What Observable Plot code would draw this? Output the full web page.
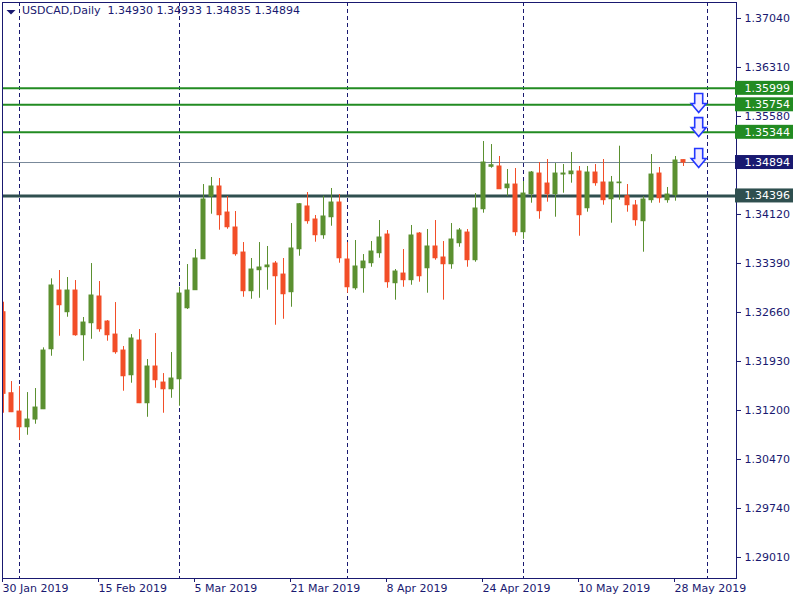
<!DOCTYPE html>
<html><head><meta charset="utf-8">
<script src="https://cdn.jsdelivr.net/npm/d3@7"></script>
<script src="https://cdn.jsdelivr.net/npm/@observablehq/plot@0.6"></script>
<style>body{margin:0;background:#fff} svg{display:block}</style>
</head><body><div id="chart"></div>
<script>
const symbolName = "USDCAD,Daily";
const open = [
1.32664,1.31457,1.31184,1.30950,1.31065,1.31218,1.32112,1.32987,1.32664,1.32987,
1.32321,1.32500,1.32898,1.32525,1.32331,1.32093,1.31725,1.32242,1.31308,1.31855,
1.31616,1.31516,1.31665,1.32723,1.32992,1.33453,1.34388,1.34537,1.34149,1.33926,
1.33553,1.32977,1.33290,1.33334,1.33389,1.33225,1.32962,1.33602,1.34239,1.34045,
1.33811,1.34079,1.34298,1.33449,1.33021,1.33319,1.33394,1.33543,1.33821,1.33096,
1.33240,1.33141,1.33836,1.33319,1.33643,1.33479,1.33379,1.33692,1.33851,1.33439,
1.34198,1.34830,1.34835,1.34511,1.34566,1.33856,1.34422,1.34730,1.34581,1.34422,
1.34715,1.34720,1.34760,1.34213,1.34745,1.34596,1.34347,1.34586,1.34392,1.34254,
1.34020,1.34333,1.34730,1.34333,1.34407,1.34930];
const high = [
1.32813,1.31631,1.31557,1.31467,1.31527,1.32133,1.33161,1.33285,1.33181,1.33136,
1.32585,1.33389,1.33121,1.32540,1.32808,1.32153,1.32331,1.32406,1.31959,1.32346,
1.31750,1.32063,1.33036,1.33374,1.33598,1.34566,1.34671,1.34656,1.34388,1.34164,
1.33702,1.33464,1.33702,1.33643,1.33419,1.33464,1.33985,1.34283,1.34447,1.34105,
1.34392,1.34507,1.34417,1.33702,1.33732,1.33523,1.33717,1.34030,1.33881,1.33300,
1.33598,1.33956,1.33851,1.33896,1.34030,1.33717,1.33985,1.33911,1.33896,1.34432,
1.35207,1.35162,1.34984,1.34790,1.34805,1.34611,1.34760,1.34894,1.34939,1.34879,
1.34864,1.35043,1.34835,1.34835,1.34864,1.34939,1.34686,1.35137,1.34566,1.34328,
1.34388,1.35013,1.34820,1.34522,1.34984,1.34933];
const low = [
1.31159,1.31169,1.30752,1.30831,1.30995,1.31214,1.32008,1.32306,1.32589,1.32306,
1.31934,1.32261,1.32366,1.32232,1.32038,1.31487,1.31606,1.31303,1.31099,1.31531,
1.31159,1.31382,1.31263,1.32704,1.32992,1.33453,1.34124,1.33886,1.33900,1.33498,
1.32887,1.32857,1.32872,1.32992,1.32470,1.32559,1.32738,1.33498,1.33975,1.33707,
1.33751,1.33945,1.33394,1.32947,1.32992,1.32947,1.33334,1.33468,1.33021,1.32843,
1.33036,1.33066,1.33111,1.32947,1.33439,1.32843,1.33304,1.33632,1.33334,1.33409,
1.34139,1.34809,1.34496,1.34392,1.33796,1.33751,1.34288,1.34049,1.34303,1.34079,
1.34437,1.34586,1.33796,1.34154,1.34541,1.34258,1.33990,1.34333,1.34154,1.33945,
1.33558,1.34288,1.34288,1.34288,1.34318,1.34835];
const close = [
1.31448,1.31174,1.30950,1.31065,1.31244,1.32093,1.33062,1.32768,1.32987,1.32321,
1.32510,1.32913,1.32410,1.32321,1.32068,1.31710,1.32272,1.31308,1.31855,1.31651,
1.31516,1.31676,1.32942,1.32987,1.33464,1.34343,1.34537,1.34109,1.33930,1.33528,
1.32977,1.33300,1.33330,1.33360,1.33200,1.32932,1.33613,1.34273,1.34020,1.33811,
1.34090,1.34298,1.33468,1.33036,1.33345,1.33419,1.33568,1.33777,1.33111,1.33270,
1.33141,1.33807,1.33200,1.33643,1.33468,1.33379,1.33747,1.33881,1.33439,1.34209,
1.34894,1.34854,1.34496,1.34566,1.33856,1.34432,1.34745,1.34169,1.34422,1.34730,
1.34730,1.34760,1.34109,1.34745,1.34586,1.34333,1.34596,1.34596,1.34258,1.34035,
1.34343,1.34715,1.34362,1.34417,1.34924,1.34894];
const dateLabels = ["30 Jan 2019","15 Feb 2019","5 Mar 2019","21 Mar 2019","8 Apr 2019","24 Apr 2019","10 May 2019","28 May 2019"];
const dateLabelBars = [0,12,24,36,48,60,72,84];
const monthStartBars = [2,22,43,65,88];
const yTicks = [1.29010,1.29740,1.30470,1.31200,1.31930,1.32660,1.33390,1.34120,1.34850,1.35580,1.36310,1.37040];
const resistanceLevels = [1.35999,1.35754,1.35344];
const supportLevels = [1.34396];
const arrowTips = [1.3564,1.3528,1.3482];
const arrowBar = 86.9;

const navy = "#191970", upCol = "#5b9030", downCol = "#f24e28";
const green = "#228b22", slate = "#2f4f4f", grey = "#778899";
const candles = open.map((o, i) => ({i, o, h: high[i], l: low[i], c: close[i], up: close[i] >= o}));
const last = candles[candles.length - 1];
const xMin = -0.125, xMax = 91.625;
const boxes = [
  ...resistanceLevels.map(v => ({v, col: green})),
  {v: last.c, col: navy},
  ...supportLevels.map(v => ({v, col: slate}))
];
const header = `${symbolName}\u00a0\u00a0${[last.o, last.h, last.l, last.c].map(d => d.toFixed(5)).join(" ")}`;

// hollow down arrow shape, tip at the anchor point
const downArrow = {draw(ctx) {
  ctx.moveTo(-4, -19); ctx.lineTo(4, -19); ctx.lineTo(4, -9); ctx.lineTo(7.5, -9);
  ctx.lineTo(0, 0); ctx.lineTo(-7.5, -9); ctx.lineTo(-4, -9); ctx.closePath();
}};
const menuTriangle = {draw(ctx) {
  ctx.moveTo(-4.5, -2); ctx.lineTo(4.5, -2); ctx.lineTo(0, 2.5); ctx.closePath();
}};

const chart = Plot.plot({
  width: 800, height: 600,
  marginLeft: 2, marginRight: 64, marginTop: 2, marginBottom: 22,
  x: {domain: [xMin, xMax], axis: null},
  y: {domain: [1.28697, 1.37278], axis: null},
  color: {type: "identity"},
  style: {fontFamily: "DejaVu Sans", fontSize: "11px", background: "#fff", overflow: "visible"},
  marks: [
    Plot.ruleX(monthStartBars, {stroke: navy, strokeDasharray: "4,3"}),
    Plot.axisY({anchor: "right", label: null, ticks: yTicks, tickFormat: d => d.toFixed(5), tickSize: 4, tickPadding: 4, stroke: navy, fill: navy, fontSize: 11}),
    Plot.axisX({label: null, ticks: dateLabelBars, tickFormat: d => dateLabels[dateLabelBars.indexOf(d)], textAnchor: "start", dx: -1, tickSize: 4, tickPadding: 2, stroke: navy, fill: navy, fontSize: 11}),
    Plot.ruleY(resistanceLevels, {stroke: green, strokeWidth: 2}),
    Plot.ruleY([last.c], {stroke: grey, strokeWidth: 1}),
    Plot.ruleY(supportLevels, {stroke: slate, strokeWidth: 3}),
    Plot.ruleX(candles, {x: "i", y1: "l", y2: "h", stroke: d => d.up ? upCol : downCol, clip: true}),
    Plot.rect(candles, {x1: "i", x2: "i", y1: "o", y2: "c", insetLeft: -2.5, insetRight: -2.5, insetTop: -0.5, insetBottom: -0.5, fill: d => d.up ? upCol : downCol, clip: true}),
    Plot.dot(arrowTips, {x: () => arrowBar, y: d => d, symbol: downArrow, fill: "#f3ecff", stroke: "#2438ff", strokeWidth: 1.6}),
    Plot.frame({stroke: navy}),
    Plot.rect(boxes, {x1: () => xMax, x2: () => xMax, y1: "v", y2: "v", insetLeft: -1, insetRight: -57, insetTop: -7, insetBottom: -7, fill: "col"}),
    Plot.text(boxes, {x: () => xMax, y: "v", text: d => d.v.toFixed(5), dx: 8, textAnchor: "start", fill: "white", fontSize: 11}),
    Plot.dot([0], {frameAnchor: "top-left", dx: 8.5, dy: 9.5, symbol: menuTriangle, fill: navy, stroke: null}),
    Plot.text([header], {frameAnchor: "top-left", dx: 19.5, dy: 4, textAnchor: "start", lineAnchor: "top", fill: navy, fontSize: 11})
  ]
});
document.getElementById("chart").append(chart);
</script>
</body></html>
